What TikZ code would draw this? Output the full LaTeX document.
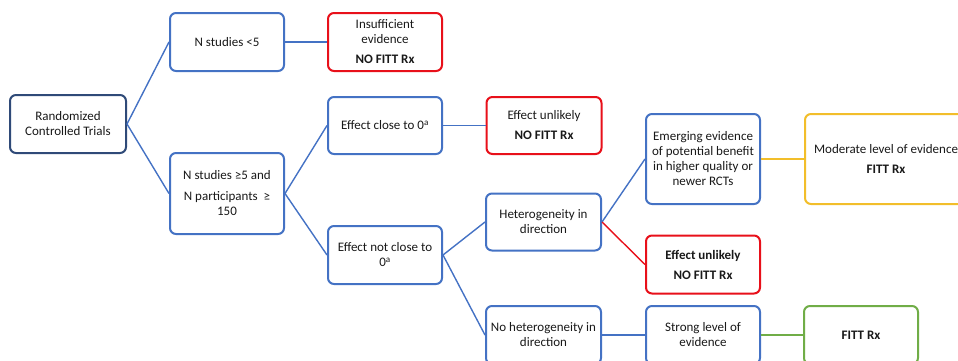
\documentclass[tikz,border=0pt]{standalone}
\usepackage{fontspec}
\setmainfont{Carlito}
\definecolor{cblue}{HTML}{4472C4}
\definecolor{cdark}{HTML}{2F4A78}
\definecolor{cred}{HTML}{E8101A}
\definecolor{cgold}{HTML}{F2BE2A}
\definecolor{cgreen}{HTML}{70AD47}
\tikzset{
  box/.style={draw=cblue, line width=2pt, rounded corners=6pt, fill=white,
    align=center, inner sep=0pt, font=\fontsize{13}{15}\selectfont, text=black!90},
  redbox/.style={box, draw=cred},
  goldbox/.style={box, draw=cgold},
  greenbox/.style={box, draw=cgreen},
  darkbox/.style={box, draw=cdark},
  conn/.style={draw=cblue, line width=1.4pt},
  rconn/.style={conn, draw=cred},
  yconn/.style={conn, draw=cgold},
  gconn/.style={conn, draw=cgreen},
}
\begin{document}
\begin{tikzpicture}[x=1pt,y=-1pt]
\useasboundingbox (0,0) rectangle (958,360);
\clip (0,0) rectangle (958,360);
\node[darkbox, minimum width=116, minimum height=58] (rct) at (68,124) {Randomized\\Controlled Trials};
\node[box, minimum width=114, minimum height=58] (n5) at (227,42) {N studies <5};
\node[box, minimum width=114, minimum height=81] (nge5) at (227,193.5) {N studies ≥5 and\\[6pt]N participants\ \ ≥\\150};
\node[redbox, minimum width=114, minimum height=58] (insuf) at (385,42) {Insufficient\\evidence\\[5pt]\textbf{NO FITT Rx}};
\node[box, minimum width=114, minimum height=57] (close) at (385,125.5) {Effect close to 0\textsuperscript{a}};
\node[redbox, minimum width=115, minimum height=57] (unl1) at (544,125.5) {Effect unlikely\\[5pt]\textbf{NO FITT Rx}};
\node[box, minimum width=114, minimum height=58] (notclose) at (385,255) {Effect not close to\\0\textsuperscript{a}};
\node[box, minimum width=115, minimum height=57] (het) at (543.5,222) {Heterogeneity in\\direction};
\node[box, minimum width=115, minimum height=58] (nohet) at (543.5,335) {No heterogeneity in\\direction};
\node[box, minimum width=114, minimum height=90] (emerg) at (703,159) {Emerging evidence\\of potential benefit\\in higher quality or\\newer RCTs};
\node[goldbox, minimum width=162, minimum height=90] (mod) at (886,159) {Moderate level of evidence\\[5pt]\textbf{FITT Rx}};
\node[redbox, minimum width=114, minimum height=58] (unl2) at (703,264.5) {\textbf{Effect unlikely}\\[5pt]\textbf{NO FITT Rx}};
\node[box, minimum width=114, minimum height=58] (strong) at (703,335) {Strong level of\\evidence};
\node[greenbox, minimum width=114, minimum height=58] (fitt) at (861,335) {\textbf{FITT Rx}};
\draw[conn] (rct.east) -- (n5.west);
\draw[conn] (rct.east) -- (nge5.west);
\draw[conn] (n5.east) -- (insuf.west);
\draw[conn] (nge5.east) -- (close.west);
\draw[conn] (nge5.east) -- (notclose.west);
\draw[conn] (close.east) -- (unl1.west);
\draw[conn] (notclose.east) -- (het.west);
\draw[conn] (notclose.east) -- (nohet.west);
\draw[conn] (het.east) -- (emerg.west);
\draw[rconn] (het.east) -- (unl2.west);
\draw[yconn] (emerg.east) -- (mod.west);
\draw[conn] (nohet.east) -- (strong.west);
\draw[gconn] (strong.east) -- (fitt.west);
\end{tikzpicture}
\end{document}
